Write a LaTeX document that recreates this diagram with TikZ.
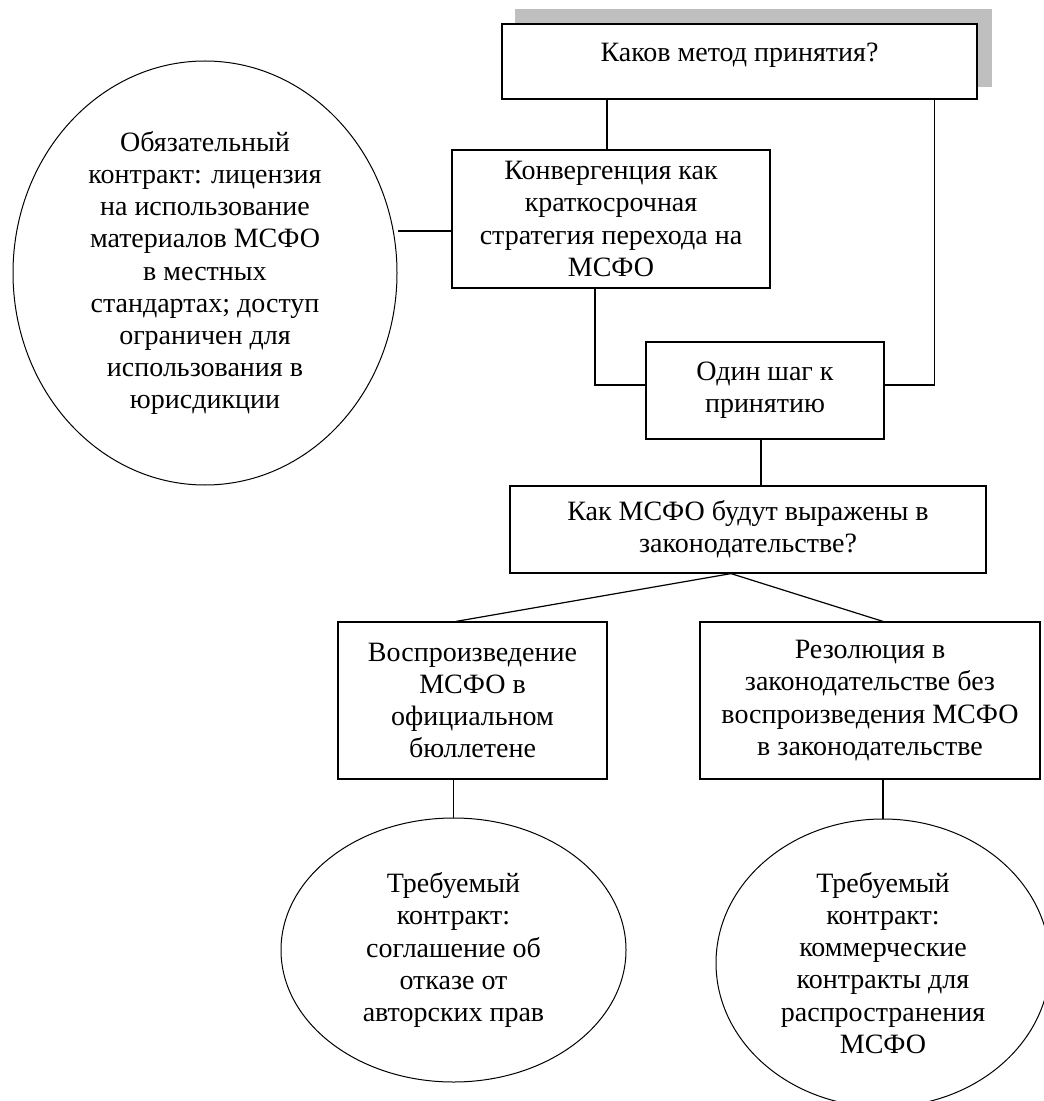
\documentclass[tikz,border=0pt]{standalone}
\usepackage{fontspec}
\setmainfont{Liberation Serif}
\usetikzlibrary{shapes.geometric}
\begin{document}
\begin{tikzpicture}[x=0.5pt, y=-0.5pt,
		every node/.style={font=\fontsize{14}{16.1}\selectfont, align=center, inner sep=0pt},
		box/.style={draw, line width=0.6pt, fill=white},
		oval/.style={draw, ellipse, line width=0.5pt},
		link/.style={line width=0.6pt}]
	\useasboundingbox (0,0) rectangle (1043,1101);

	% shadow behind the question
	\fill[black!25] (515,9) rectangle (992,87);
	\node[box, minimum width=237.5pt, text height=19pt, text depth=18.5pt] (q1) at (739.5,61.5) {Каков метод принятия?};

	\node[box, minimum width=159pt, minimum height=69pt] (konv) at (611,219)
		{Конвергенция как\\краткосрочная\\стратегия перехода на\\МСФО};
	\node[oval, minimum width=192pt, minimum height=212pt] (bigE) at (205,273)
		{Обязательный\\контракт: лицензия\\на использование\\материалов МСФО\\в местных\\стандартах; доступ\\ограничен для\\использования в\\юрисдикции};
	\node[box, minimum width=119pt, minimum height=48.5pt] (step1) at (765,390.5) {Один шаг к\\принятию};
	\node[box, minimum width=238pt, minimum height=43.5pt] (law) at (748,529.5)
		{Как МСФО будут выражены в\\законодательстве?};

	\node[box, minimum width=134.5pt, minimum height=78.5pt] (repro) at (472.5,700.5)
		{Воспроизведение\\МСФО в\\официальном\\бюллетене};
	\node[box, minimum width=170pt, minimum height=78.5pt] (resol) at (870,700.5)
		{Резолюция в\\законодательстве без\\воспроизведения МСФО\\в законодательстве};

	\node[oval, minimum width=172.5pt, minimum height=132pt] (e2) at (453.5,950)
		{Требуемый\\контракт:\\соглашение об\\отказе от\\авторских прав};
	\node[oval, minimum width=167pt, minimum height=144pt] (e3) at (883,963)
		{Требуемый\\контракт:\\коммерческие\\контракты для\\распространения\\МСФО};

	% connectors
	\draw[link] ([xshift=-2pt]konv.north) -- ([xshift=-2pt]konv.north |- q1.south);
	\draw[link] ([yshift=-6pt]konv.west) -- ([yshift=-6pt]konv.west -| bigE.east);
	\draw[link] ([xshift=-8pt]konv.south) |- ([yshift=2.75pt]step1.west);
	\draw[link] ([xshift=-21.5pt]q1.south east) |- ([yshift=2.75pt]step1.east);
	\draw[link] ([xshift=-2pt]step1.south) -- ([xshift=-2pt]step1.south |- law.north);
	\foreach \kid/\dx in {repro/-8.25pt, resol/6.5pt}
	\draw[link] ([xshift=-8.5pt]law.south) -- ([xshift=\dx]\kid.north);
	\draw[link] (e2.north) -- (e2.north |- repro.south);
	\draw[link] (e3.north) -- (e3.north |- resol.south);
\end{tikzpicture}
\end{document}
